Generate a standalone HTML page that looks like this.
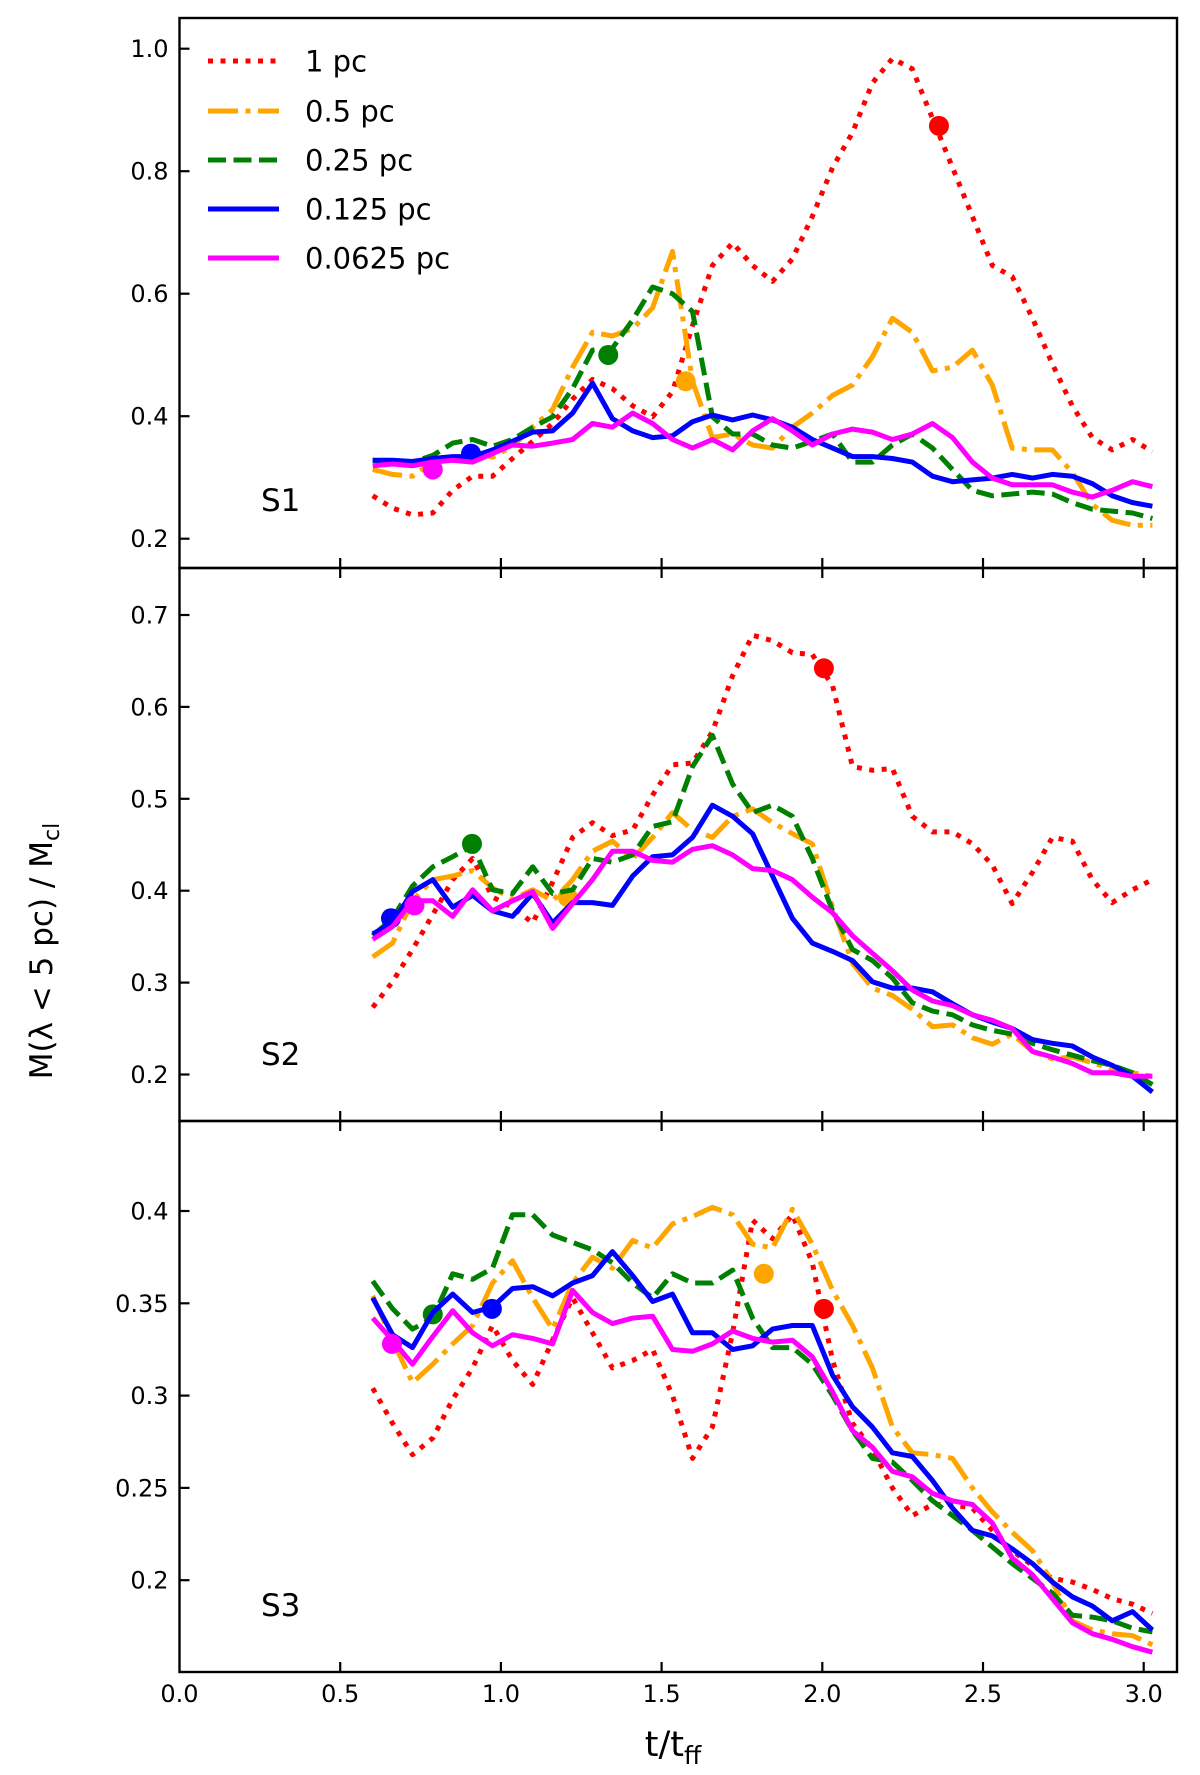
<!DOCTYPE html>
<html><head><meta charset="utf-8">
<style>
html,body{margin:0;padding:0;background:#fff;}
svg{display:block;font-family:"DejaVu Sans","Liberation Sans",sans-serif;}
</style></head>
<body>
<svg id="fig" width="1200" height="1775" viewBox="0 0 1200 1775" xmlns="http://www.w3.org/2000/svg">
<g id="plots"></g>
<g id="axes"></g>
<text x="673" y="1756" font-size="35" text-anchor="middle">t/t<tspan font-size="25" dy="8">ff</tspan></text>
<text transform="translate(52,951) rotate(-90)" font-size="31" text-anchor="middle">M(λ &lt; 5 pc) / M<tspan font-size="22" dy="7">cl</tspan></text>
</svg>
<script>
const times = [0.601,0.663,0.725,0.788,0.850,0.912,0.974,1.036,1.099,1.161,1.223,1.285,1.347,1.410,1.472,1.534,1.596,1.658,1.721,1.783,1.845,1.907,1.969,2.032,2.094,2.156,2.218,2.280,2.343,2.405,2.467,2.529,2.591,2.654,2.716,2.778,2.840,2.902,2.965,3.027];
const seriesNames = ["1 pc","0.5 pc","0.25 pc","0.125 pc","0.0625 pc"];
const xTicks = [0.0,0.5,1.0,1.5,2.0,2.5,3.0];
const xTickLabels = ["0.0","0.5","1.0","1.5","2.0","2.5","3.0"];
// Panel S1
const s1Red = [.270,.250,.239,.242,.279,.302,.302,.331,.359,.388,.428,.460,.445,.417,.399,.440,.548,.646,.683,.646,.620,.657,.726,.806,.863,.944,.984,.967,.886,.806,.726,.646,.628,.560,.485,.417,.365,.345,.362,.342];
const s1Orange = [.313,.305,.302,.325,.331,.342,.333,.351,.382,.411,.480,.537,.531,.543,.577,.669,.457,.365,.371,.353,.348,.382,.405,.434,.451,.497,.560,.537,.474,.480,.508,.451,.348,.345,.345,.308,.256,.230,.222,.222];
const s1Green = [.328,.325,.325,.336,.356,.362,.351,.362,.382,.399,.445,.508,.511,.557,.611,.600,.571,.399,.371,.371,.353,.348,.359,.371,.325,.325,.353,.371,.348,.313,.279,.270,.273,.276,.273,.259,.248,.245,.242,.233];
const s1Blue = [.328,.328,.326,.331,.334,.334,.345,.359,.374,.376,.405,.454,.396,.376,.365,.368,.391,.402,.394,.402,.394,.382,.362,.348,.334,.334,.331,.325,.302,.293,.296,.299,.305,.299,.305,.302,.290,.270,.259,.253];
const s1Magenta = [.319,.322,.319,.325,.328,.325,.339,.353,.351,.356,.362,.388,.382,.405,.388,.362,.348,.362,.345,.376,.396,.376,.353,.371,.379,.374,.362,.371,.388,.365,.325,.299,.288,.288,.288,.276,.268,.279,.293,.285];
const s1MarkT = [2.363,1.575,1.334,0.907,0.788];
const s1MarkV = [0.874,0.457,0.500,0.339,0.313];
const s1YTicks = [0.2,0.4,0.6,0.8,1.0];
// Panel S2
const s2Red = [.273,.301,.336,.374,.412,.435,.393,.382,.365,.409,.458,.474,.460,.466,.504,.537,.539,.573,.634,.678,.672,.659,.657,.623,.535,.531,.533,.481,.464,.464,.451,.428,.386,.420,.458,.454,.412,.387,.401,.412];
const s2Orange = [.328,.343,.389,.412,.416,.422,.403,.391,.401,.389,.412,.443,.454,.435,.458,.485,.466,.458,.481,.489,.474,.462,.451,.382,.321,.294,.286,.271,.252,.254,.240,.233,.244,.225,.217,.219,.213,.206,.202,.198];
const s2Green = [.351,.370,.405,.426,.437,.449,.401,.397,.426,.397,.401,.435,.431,.439,.470,.475,.535,.569,.516,.485,.493,.481,.435,.378,.336,.324,.305,.278,.269,.265,.254,.248,.244,.234,.227,.221,.215,.210,.202,.189];
const s2Blue = [.353,.365,.399,.412,.382,.395,.378,.372,.397,.365,.387,.387,.384,.416,.437,.439,.458,.493,.481,.462,.416,.370,.343,.334,.324,.301,.294,.294,.290,.277,.265,.257,.250,.238,.234,.231,.219,.210,.198,.181];
const s2Magenta = [.347,.361,.389,.389,.372,.401,.378,.389,.399,.359,.386,.412,.443,.443,.433,.431,.445,.449,.439,.424,.422,.412,.393,.376,.351,.332,.313,.292,.280,.275,.265,.259,.250,.225,.219,.212,.202,.202,.198,.198];
const s2MarkT = [2.005,1.208,0.910,0.658,0.731];
const s2MarkV = [0.642,0.393,0.451,0.370,0.384];
const s2YTicks = [0.2,0.3,0.4,0.5,0.6,0.7];
// Panel S3
const s3Red = [.304,.285,.268,.277,.298,.315,.338,.319,.306,.330,.353,.334,.315,.319,.325,.300,.266,.283,.334,.395,.385,.398,.372,.319,.285,.271,.250,.235,.241,.241,.239,.227,.216,.208,.201,.199,.195,.190,.187,.182];
const s3Orange = [.354,.330,.307,.317,.328,.338,.361,.373,.353,.336,.361,.375,.369,.384,.380,.393,.397,.402,.398,.382,.380,.401,.382,.357,.338,.315,.283,.269,.268,.266,.250,.237,.226,.216,.199,.178,.173,.171,.170,.165];
const s3Green = [.362,.347,.336,.342,.366,.363,.369,.398,.398,.387,.383,.379,.372,.361,.353,.366,.361,.361,.368,.342,.326,.326,.317,.300,.281,.266,.264,.254,.243,.235,.227,.218,.209,.201,.193,.181,.180,.178,.174,.172];
const s3Blue = [.353,.333,.326,.345,.355,.345,.348,.358,.359,.354,.361,.365,.378,.365,.351,.355,.334,.334,.325,.327,.336,.338,.338,.311,.294,.283,.269,.267,.254,.239,.227,.224,.217,.209,.199,.191,.186,.178,.183,.173];
const s3Magenta = [.342,.330,.317,.332,.346,.334,.327,.333,.331,.328,.357,.345,.339,.342,.343,.325,.324,.328,.335,.331,.329,.330,.321,.302,.281,.272,.259,.256,.247,.243,.241,.231,.212,.203,.190,.177,.171,.168,.164,.161];
const s3MarkT = [2.005,1.818,0.788,0.972,0.661];
const s3MarkV = [0.347,0.366,0.344,0.347,0.328];
const s3YTicks = [0.2,0.25,0.3,0.35,0.4];
const s3YTickLabels = ["0.2","0.25","0.3","0.35","0.4"];

const NS = "http://www.w3.org/2000/svg";
const colors = ["#ff0000","#ffa500","#008000","#0000ff","#ff00ff"];
const dashes = ["5 7.5","30 7.5 5 7.5","18 7.5","",""];
const LEFT = 179.5, RIGHT = 1177;
function xScale(t){ return LEFT + t * 321.4; }
const panels = [
  {name:"s1", top:18, bottom:568, y:function(v){return 48.7 + (1.0 - v) * 612.5;}, series:[s1Red,s1Orange,s1Green,s1Blue,s1Magenta], mt:s1MarkT, mv:s1MarkV, ticks:s1YTicks, labels:s1YTicks.map(function(v){return v.toFixed(1);}), label:"S1", ly:511},
  {name:"s2", top:568, bottom:1121, y:function(v){return 615 + (0.7 - v) * 919;}, series:[s2Red,s2Orange,s2Green,s2Blue,s2Magenta], mt:s2MarkT, mv:s2MarkV, ticks:s2YTicks, labels:s2YTicks.map(function(v){return v.toFixed(1);}), label:"S2", ly:1065},
  {name:"s3", top:1121, bottom:1672, y:function(v){return 1211 + (0.4 - v) * 1846;}, series:[s3Red,s3Orange,s3Green,s3Blue,s3Magenta], mt:s3MarkT, mv:s3MarkV, ticks:s3YTicks, labels:s3YTickLabels, label:"S3", ly:1616}
];
const plots = document.getElementById("plots");
const axes = document.getElementById("axes");
function mk(tag, attrs, parent){
  const e = document.createElementNS(NS, tag);
  for (const k in attrs) e.setAttribute(k, attrs[k]);
  parent.appendChild(e);
  return e;
}
panels.forEach(function(p, pi){
  const g = mk("g", {}, plots);
  
  
  const cid = "clip" + pi;
  const cp = mk("clipPath", {id:cid}, g);
  mk("rect", {x:LEFT, y:p.top, width:RIGHT-LEFT, height:p.bottom-p.top}, cp);
  const lg = mk("g", {"clip-path":"url(#"+cid+")"}, g);
  p.series.forEach(function(vals, si){
    const pts = vals.map(function(v, i){ return xScale(times[i]).toFixed(1) + "," + p.y(v).toFixed(1); }).join(" ");
    const attrs = {points:pts, fill:"none", stroke:colors[si], "stroke-width":"5", "stroke-linejoin":"round"};
    if (dashes[si]) attrs["stroke-dasharray"] = dashes[si];
    const pl = mk("polyline", attrs, lg);
    
    
    const c = mk("circle", {cx:xScale(p.mt[si]), cy:p.y(p.mv[si]), r:10, fill:colors[si]}, lg);
    
    
  });
  const fr = mk("rect", {x:LEFT, y:p.top, width:RIGHT-LEFT, height:p.bottom-p.top, fill:"none", stroke:"#000", "stroke-width":"2.4"}, axes);
  
  
  p.ticks.forEach(function(v, i){
    const yy = p.y(v);
    const tk = mk("line", {x1:LEFT, x2:LEFT+10, y1:yy, y2:yy, stroke:"#000", "stroke-width":"2.2"}, axes);
    
    
    const tl = mk("text", {x:LEFT-11, y:yy+8.5, "font-size":"24", "text-anchor":"end"}, axes);
    tl.textContent = p.labels[i];
    
    
  });
  xTicks.forEach(function(t){
    if (t === 0) return;
    const xx = xScale(t);
    const up = mk("line", {x1:xx, x2:xx, y1:p.bottom-10, y2:p.bottom, stroke:"#000", "stroke-width":"2.2"}, axes);
    
    
    if (pi > 0) {
      const dn = mk("line", {x1:xx, x2:xx, y1:p.top, y2:p.top+10, stroke:"#000", "stroke-width":"2.2"}, axes);
      
      
    }
  });
  const lab = mk("text", {x:261, y:p.ly, "font-size":"31"}, axes);
  lab.textContent = p.label;
  
  
});
xTicks.forEach(function(t, i){
  const tl = mk("text", {x:xScale(t), y:1702, "font-size":"24", "text-anchor":"middle"}, axes);
  tl.textContent = xTickLabels[i];
  
  
});
const leg = mk("g", {}, axes);


const legY = [61,111,160,209,258];
seriesNames.forEach(function(n, si){
  const e = mk("g", {}, leg);
  
  
  const la = {x1:208, x2:279, y1:legY[si], y2:legY[si], stroke:colors[si], "stroke-width":"5"};
  if (dashes[si]) la["stroke-dasharray"] = dashes[si];
  mk("line", la, e);
  const t = mk("text", {x:305, y:legY[si]+10.5, "font-size":"29"}, e);
  t.textContent = n;
});
</script>
</body></html>
